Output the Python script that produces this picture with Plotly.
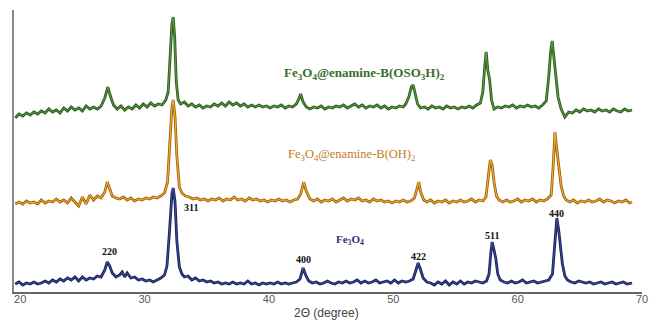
import plotly.graph_objects as go

# ---------------- data (2θ in degree, intensity in a.u., stacked) ----------------
fe3o4_x = [19.6, 19.9, 20.2, 20.5, 20.8, 21.1, 21.4, 21.7, 22.0, 22.3, 22.6, 22.9, 23.2, 23.5, 23.8,
           24.1, 24.4, 24.7, 25.0, 25.3, 25.6, 25.9, 26.2, 26.5, 26.8, 27.0, 27.2, 27.4, 27.7, 28.0,
           28.2, 28.4, 28.6, 28.9, 29.2, 29.5, 29.8, 30.1, 30.4, 30.7, 31.0, 31.3, 31.6, 31.8, 32.0,
           32.2, 32.3, 32.45, 32.6, 32.8, 33.0, 33.2, 33.5, 33.8, 34.1, 34.4, 34.7, 35.0, 35.3, 35.6,
           35.9, 36.2, 36.5, 36.8, 37.1, 37.4, 37.7, 38.0, 38.3, 38.6, 38.9, 39.2, 39.5, 39.8, 40.1,
           40.4, 40.7, 41.0, 41.3, 41.6, 41.9, 42.2, 42.5, 42.75, 42.95, 43.2, 43.5, 43.8, 44.1, 44.4,
           44.7, 45.0, 45.3, 45.6, 45.9, 46.2, 46.5, 46.8, 47.1, 47.4, 47.7, 48.0, 48.3, 48.6, 48.9,
           49.2, 49.5, 49.8, 50.1, 50.4, 50.7, 51.0, 51.3, 51.6, 51.85, 52.0, 52.2, 52.4, 52.7, 53.0,
           53.3, 53.6, 53.9, 54.2, 54.5, 54.8, 55.1, 55.4, 55.7, 56.0, 56.3, 56.6, 56.9, 57.2, 57.5,
           57.7, 57.85, 57.95, 58.1, 58.25, 58.4, 58.6, 58.9, 59.2, 59.5, 59.8, 60.1, 60.4, 60.7, 61.0,
           61.3, 61.6, 61.9, 62.2, 62.5, 62.8, 63.0, 63.15, 63.3, 63.45, 63.6, 63.8, 64.0, 64.3, 64.6,
           64.9, 65.2, 65.5, 65.8, 66.1, 66.4, 66.7, 67.0, 67.3, 67.6, 67.9, 68.2, 68.5, 68.8, 69.2]
fe3o4_y = [8, 10, 7, 9, 8, 10, 8, 9, 11, 9, 12, 10, 13, 11, 14,
           12, 15, 11, 15, 12, 14, 13, 16, 15, 22, 30, 26, 19, 15, 17,
           20, 15, 19, 14, 15, 12, 13, 11, 12, 10, 12, 14, 17, 26, 60,
           98, 104, 90, 50, 25, 18, 15, 16, 12, 14, 11, 12, 10, 11, 9,
           10, 8, 9, 8, 10, 8, 9, 8, 11, 8, 9, 7, 9, 8, 9,
           8, 10, 8, 9, 8, 9, 10, 13, 24, 17, 11, 9, 10, 8, 9,
           11, 9, 8, 10, 9, 11, 9, 10, 12, 9, 11, 9, 10, 12, 9,
           10, 11, 9, 12, 9, 11, 10, 11, 13, 22, 29, 22, 14, 10, 9,
           7, 10, 8, 11, 7, 10, 8, 11, 8, 10, 9, 11, 10, 9, 11,
           18, 40, 50, 42, 33, 18, 12, 10, 9, 11, 9, 10, 12, 9, 10,
           11, 9, 10, 11, 12, 18, 55, 74, 62, 45, 28, 16, 12, 10, 9,
           11, 10, 9, 10, 8, 9, 10, 8, 9, 10, 8, 9, 10, 8, 9]

boh_x = [19.6, 19.9, 20.2, 20.5, 20.8, 21.1, 21.4, 21.7, 22.0, 22.3, 22.6, 22.9, 23.2, 23.5, 23.8,
         24.1, 24.4, 24.7, 25.0, 25.3, 25.6, 25.9, 26.2, 26.5, 26.8, 27.0, 27.2, 27.4, 27.7, 28.0,
         28.3, 28.6, 28.9, 29.2, 29.5, 29.8, 30.1, 30.4, 30.7, 31.0, 31.3, 31.6, 31.85, 32.05, 32.2,
         32.3, 32.45, 32.6, 32.8, 33.0, 33.3, 33.6, 33.9, 34.2, 34.5, 34.8, 35.1, 35.4, 35.7, 36.0,
         36.3, 36.6, 36.9, 37.2, 37.5, 37.8, 38.1, 38.4, 38.7, 39.0, 39.3, 39.6, 39.9, 40.2, 40.5,
         40.8, 41.1, 41.4, 41.7, 42.0, 42.3, 42.55, 42.8, 43.0, 43.3, 43.6, 43.9, 44.2, 44.5, 44.8,
         45.1, 45.4, 45.7, 46.0, 46.3, 46.6, 46.9, 47.2, 47.5, 47.8, 48.1, 48.4, 48.7, 49.0, 49.3,
         49.6, 49.9, 50.2, 50.5, 50.8, 51.1, 51.4, 51.7, 51.9, 52.05, 52.2, 52.45, 52.7, 53.0, 53.3,
         53.6, 53.9, 54.2, 54.5, 54.8, 55.1, 55.4, 55.7, 56.0, 56.3, 56.6, 56.9, 57.2, 57.45, 57.65,
         57.8, 57.95, 58.1, 58.3, 58.5, 58.8, 59.1, 59.4, 59.7, 60.0, 60.3, 60.6, 60.9, 61.2, 61.5,
         61.8, 62.1, 62.4, 62.7, 62.85, 63.0, 63.15, 63.3, 63.5, 63.7, 63.9, 64.2, 64.5, 64.8, 65.1,
         65.4, 65.7, 66.0, 66.3, 66.6, 66.9, 67.2, 67.5, 67.8, 68.1, 68.4, 68.7, 69.0, 69.2]
boh_y = [88, 90, 88, 91, 89, 90, 88, 92, 89, 91, 90, 93, 90, 92, 89,
         94, 90, 86, 95, 88, 97, 92, 96, 94, 100, 110, 103, 96, 94, 93,
         95, 92, 94, 91, 93, 92, 94, 93, 95, 94, 96, 99, 110, 150, 185,
         192, 175, 135, 105, 99, 96, 95, 93, 94, 92, 93, 91, 93, 92, 94,
         91, 93, 92, 95, 92, 93, 91, 94, 92, 93, 91, 92, 90, 92, 91,
         93, 91, 92, 90, 92, 93, 98, 110, 101, 93, 91, 93, 90, 92, 91,
         93, 90, 92, 94, 91, 93, 92, 94, 91, 92, 90, 93, 91, 92, 90,
         91, 89, 91, 90, 92, 90, 91, 94, 103, 110, 100, 92, 90, 92, 89,
         91, 90, 92, 89, 91, 90, 92, 90, 91, 93, 90, 92, 91, 95, 115,
         132, 127, 110, 96, 92, 90, 92, 90, 91, 93, 90, 92, 91, 93, 90,
         92, 91, 93, 97, 125, 160, 142, 128, 106, 96, 92, 90, 92, 89, 91,
         90, 92, 90, 91, 93, 90, 92, 91, 89, 91, 90, 92, 89, 90]

boso_x = [19.6, 19.9, 20.2, 20.5, 20.8, 21.1, 21.4, 21.7, 22.0, 22.3, 22.6, 22.9, 23.2, 23.5, 23.8,
          24.1, 24.4, 24.7, 25.0, 25.3, 25.6, 25.9, 26.2, 26.5, 26.8, 27.05, 27.25, 27.5, 27.8, 28.1,
          28.4, 28.7, 29.0, 29.3, 29.6, 29.9, 30.2, 30.5, 30.8, 31.1, 31.4, 31.7, 31.9, 32.05, 32.2,
          32.3, 32.42, 32.55, 32.7, 32.9, 33.2, 33.5, 33.8, 34.1, 34.4, 34.7, 35.0, 35.3, 35.6, 35.9,
          36.2, 36.5, 36.8, 37.1, 37.4, 37.7, 38.0, 38.3, 38.6, 38.9, 39.2, 39.5, 39.8, 40.1, 40.4,
          40.7, 41.0, 41.3, 41.6, 41.9, 42.2, 42.4, 42.55, 42.75, 43.0, 43.3, 43.6, 43.9, 44.2, 44.5,
          44.8, 45.1, 45.4, 45.7, 46.0, 46.3, 46.6, 46.9, 47.2, 47.5, 47.8, 48.1, 48.4, 48.7, 49.0,
          49.3, 49.6, 49.9, 50.2, 50.5, 50.8, 51.0, 51.25, 51.45, 51.6, 51.75, 51.95, 52.2, 52.5, 52.8,
          53.1, 53.4, 53.7, 54.0, 54.3, 54.6, 54.9, 55.2, 55.5, 55.8, 56.1, 56.4, 56.7, 57.0, 57.2,
          57.35, 57.47, 57.6, 57.75, 57.9, 58.1, 58.4, 58.7, 59.0, 59.3, 59.6, 59.9, 60.2, 60.5, 60.8,
          61.1, 61.4, 61.7, 62.0, 62.3, 62.5, 62.65, 62.78, 62.9, 63.05, 63.25, 63.5, 63.8, 64.1, 64.4,
          64.7, 65.0, 65.3, 65.6, 65.9, 66.2, 66.5, 66.8, 67.1, 67.4, 67.7, 68.0, 68.3, 68.6, 68.9, 69.2]
boso_y = [174, 178, 176, 179, 177, 180, 178, 181, 179, 183, 180, 182, 179, 184, 181,
          185, 182, 184, 181, 186, 183, 185, 183, 186, 194, 205, 196, 187, 183, 186,
          182, 185, 183, 187, 184, 188, 185, 189, 186, 188, 187, 192, 200, 240, 268,
          275, 255, 210, 192, 188, 190, 186, 188, 185, 187, 184, 186, 185, 188, 186,
          189, 186, 190, 187, 189, 186, 188, 185, 187, 185, 187, 185, 186, 184, 186,
          185, 187, 184, 186, 185, 188, 193, 198, 190, 185, 183, 185, 184, 186, 183,
          185, 184, 186, 185, 187, 184, 186, 188, 185, 187, 184, 186, 185, 187, 184,
          186, 183, 185, 184, 186, 185, 188, 195, 205, 207, 198, 188, 184, 185, 183,
          186, 184, 185, 183, 186, 184, 185, 183, 185, 184, 186, 184, 187, 189, 200,
          225, 240, 222, 212, 192, 183, 185, 184, 186, 185, 187, 184, 186, 185, 187,
          185, 186, 184, 187, 191, 215, 240, 251, 235, 215, 195, 183, 175, 180, 179,
          182, 180, 183, 181, 182, 180, 183, 181, 182, 180, 183, 181, 180, 183, 181, 182]

# peak (hkl) labels of Fe3O4
hkl_labels = ["220", "311", "400", "422", "511", "440"]
hkl_x = [27.2, 33.7, 42.8, 52.0, 57.95, 63.15]
hkl_y = [41, 85, 33, 36, 57, 79]

x_ticks = [20, 30, 40, 50, 60, 70]

# ---------------- figure ----------------
fig = go.Figure()

series = [
    (fe3o4_x, fe3o4_y, "#1b2158", "#3b4a9e"),
    (boh_x, boh_y, "#a5600c", "#f2b632"),
    (boso_x, boso_y, "#2c5a1c", "#5e9c44"),
]
for xs, ys, outer, inner in series:
    fig.add_trace(go.Scatter(x=xs, y=ys, mode="lines",
                             line=dict(color=outer, width=2.8), hoverinfo="skip"))
    fig.add_trace(go.Scatter(x=xs, y=ys, mode="lines",
                             line=dict(color=inner, width=1.0), hoverinfo="skip"))

serif = "Liberation Serif, Times New Roman, serif"
for lab, lx, ly in zip(hkl_labels, hkl_x, hkl_y):
    fig.add_annotation(x=lx, y=ly, text="<b>" + lab + "</b>", showarrow=False,
                       font=dict(family=serif, size=10, color="#111111"),
                       xanchor="center", yanchor="middle")

fig.add_annotation(x=47.7, y=219,
                   text="<b>Fe<sub>3</sub>O<sub>4</sub>@enamine-B(OSO<sub>3</sub>H)<sub>2</sub></b>",
                   showarrow=False, font=dict(family=serif, size=13, color="#3a6e2a"),
                   xanchor="center", yanchor="middle")
fig.add_annotation(x=46.6, y=137,
                   text="Fe<sub>3</sub>O<sub>4</sub>@enamine-B(OH)<sub>2</sub>",
                   showarrow=False, font=dict(family=serif, size=12.5, color="#c07c1c"),
                   xanchor="center", yanchor="middle")
fig.add_annotation(x=46.5, y=52,
                   text="<b>Fe<sub>3</sub>O<sub>4</sub></b>",
                   showarrow=False, font=dict(family=serif, size=11, color="#2a2f7a"),
                   xanchor="center", yanchor="middle")

fig.add_annotation(xref="paper", yref="paper", x=0.497, y=-0.075,
                   text="2\u0398 (degree)", showarrow=False,
                   font=dict(family="Liberation Sans, Arial, sans-serif", size=12, color="#444444"),
                   xanchor="center", yanchor="middle")

fig.update_layout(
    template="none",
    width=650, height=320,
    margin=dict(l=14, r=8, t=10, b=28, autoexpand=False),
    paper_bgcolor="white", plot_bgcolor="white",
    showlegend=False,
    hovermode=False,
    xaxis=dict(range=[19.5, 70], tickvals=x_ticks, ticktext=[str(v) for v in x_ticks],
               automargin=False, ticklabelstandoff=-4,
               showgrid=False, zeroline=False, showline=True, linecolor="#666666", linewidth=1.5,
               ticks="", ticklen=0,
               tickfont=dict(family="Liberation Sans, Arial, sans-serif", size=11, color="#555555")),
    yaxis=dict(range=[0, 282], showgrid=False, zeroline=False, showline=True, automargin=False,
               linecolor="#8a8a8a", linewidth=1.5, showticklabels=False, ticks=""),
)

# remove the default page margin so the 650x320 figure fills the window exactly
fig.write_html("out.html", config={"displayModeBar": False},
               post_script="document.body.style.margin='0';document.body.style.overflow='hidden';")
